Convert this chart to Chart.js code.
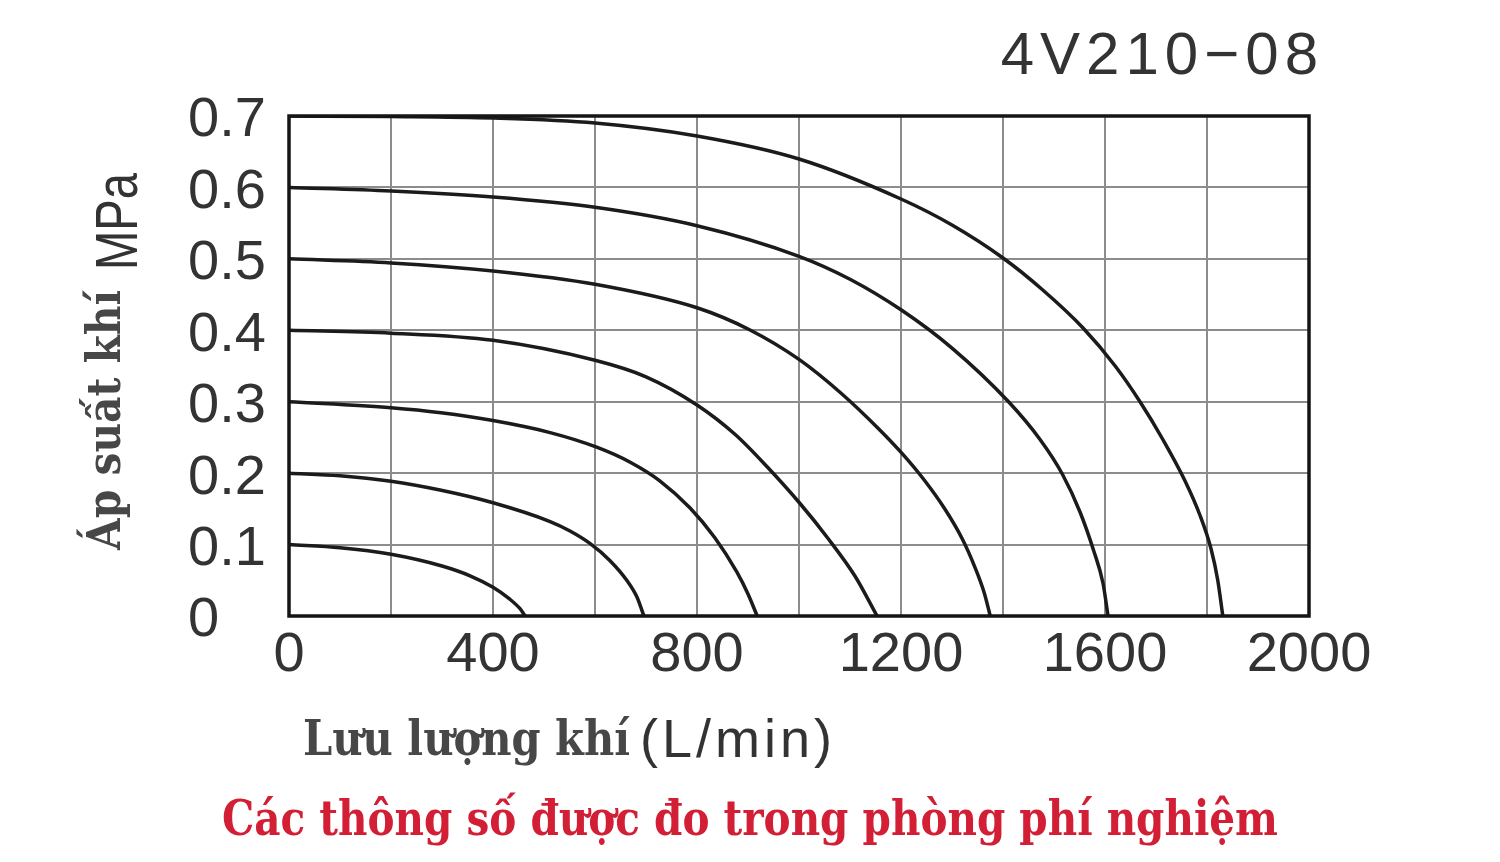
<!DOCTYPE html>
<html>
<head>
<meta charset="utf-8">
<script src="https://cdn.jsdelivr.net/npm/chart.js@4/dist/chart.umd.min.js"></script>
<style>
  html, body { margin: 0; padding: 0; background: #fff; }
  #wrap { width: 1500px; height: 862px; }
</style>
</head>
<body>
<div id="wrap"><canvas id="chart" width="1500" height="862"></canvas></div>
<script>
// Lưu lượng khí (L/min) – áp suất (MPa), đọc từ biểu đồ 4V210-08
const curve07 = [[0,0.7],[200,0.6993],[400,0.6972],[600,0.6902],[800,0.672],[1000,0.6398],[1200,0.5838],[1300,0.5474],[1400,0.5012],[1478,0.4564],[1557,0.4032],[1620,0.35],[1669,0.2996],[1714,0.2464],[1757,0.189],[1786,0.1414],[1808,0.0938],[1821,0.0504],[1831,0]];
const curve06 = [[0,0.6],[200,0.595],[400,0.5865],[600,0.5722],[800,0.5464],[1000,0.5036],[1100,0.4715],[1200,0.4287],[1300,0.3751],[1410,0.3006],[1473,0.2468],[1516,0.1991],[1551,0.1456],[1578,0.091],[1596,0.0462],[1606,0]];
const curve05 = [[0,0.5],[200,0.4943],[400,0.483],[600,0.4644],[800,0.4315],[904,0.4004],[1000,0.3592],[1082,0.3122],[1155,0.2629],[1202,0.2276],[1247,0.189],[1286,0.1498],[1320,0.1082],[1345,0.0682],[1363,0.0329],[1375,0]];
const curve04 = [[0,0.4],[200,0.396],[400,0.386],[600,0.358],[700,0.3349],[800,0.2955],[875,0.2541],[937,0.2093],[1002,0.1575],[1057,0.1085],[1110,0.0556],[1153,0]];
const curve03 = [[0,0.3],[200,0.2915],[298,0.2845],[400,0.2736],[512,0.2568],[602,0.2367],[669,0.2153],[727,0.1893],[786,0.1515],[835,0.1095],[878,0.0617],[900,0.0309],[918,0]];
const curve02 = [[0,0.2],[100,0.1964],[200,0.1886],[296,0.1763],[400,0.1585],[512,0.1322],[551,0.119],[590,0.1016],[629,0.0778],[663,0.0493],[682,0.0269],[696,0]];
const curve01 = [[0,0.1],[100,0.0956],[200,0.0864],[300,0.07],[355,0.0563],[400,0.0402],[433,0.0235],[453,0.0102],[463,0]];

const curves = [curve07, curve06, curve05, curve04, curve03, curve02, curve01];
const xTickLabels = ['0', '400', '800', '1200', '1600', '2000'];
const yTickLabels = ['0', '0.1', '0.2', '0.3', '0.4', '0.5', '0.6', '0.7'];

const chartTitle = '4V210−08';
const yTitleMain = 'Áp suất khí';
const yTitleUnit = 'MPa';
const xTitleMain = 'Lưu lượng khí';
const xTitleUnit = '(L/min)';
const caption = 'Các thông số được đo trong phòng phí nghiệm';

// khung đen quanh vùng vẽ
const framePlugin = {
  id: 'frame',
  afterDatasetsDraw(chart) {
    const { ctx, chartArea: a } = chart;
    ctx.save();
    ctx.strokeStyle = '#151515';
    ctx.lineWidth = 3.5;
    ctx.strokeRect(a.left, a.top, a.right - a.left, a.bottom - a.top);
    ctx.restore();
  }
};

// tiêu đề, tên trục và dòng chú thích đỏ
const textPlugin = {
  id: 'texts',
  afterDraw(chart) {
    const ctx = chart.ctx;
    ctx.save();
    ctx.textBaseline = 'alphabetic';

    ctx.fillStyle = '#333';
    ctx.font = '60px "Liberation Sans"';
    ctx.letterSpacing = '6px';
    ctx.textAlign = 'right';
    ctx.fillText(chartTitle, 1324, 74);
    ctx.letterSpacing = '0px';

    // trục Y (xoay)
    ctx.save();
    ctx.translate(120, 550);
    ctx.rotate(-Math.PI / 2);
    ctx.textAlign = 'left';
    ctx.fillStyle = '#474747';
    ctx.font = 'bold 46px "DejaVu Serif"';
    ctx.fillText(yTitleMain, 0, 0, 260);
    ctx.restore();
    ctx.save();
    ctx.translate(137, 270);
    ctx.rotate(-Math.PI / 2);
    ctx.textAlign = 'left';
    ctx.fillStyle = '#333';
    ctx.font = '60px "Liberation Sans"';
    ctx.fillText(yTitleUnit, 0, 0, 97);
    ctx.restore();

    // trục X
    ctx.textAlign = 'left';
    ctx.fillStyle = '#474747';
    ctx.font = 'bold 48px "DejaVu Serif"';
    ctx.fillText(xTitleMain, 303, 755, 327);
    ctx.fillStyle = '#333';
    ctx.font = '54px "Liberation Sans"';
    ctx.letterSpacing = '4px';
    ctx.fillText(xTitleUnit, 640, 757);
    ctx.letterSpacing = '0px';

    // chú thích
    ctx.fillStyle = '#d21f35';
    ctx.font = 'bold 48px "DejaVu Serif"';
    ctx.fillText(caption, 222, 835, 1056);
    ctx.restore();
  }
};

new Chart(document.getElementById('chart'), {
  type: 'line',
  data: {
    datasets: curves.map((c, i) => ({
      label: yTickLabels[7 - i],
      data: c.map(p => ({ x: p[0], y: p[1] })),
      borderColor: '#1c1a1a',
      borderWidth: 3.5,
      pointRadius: 0,
      cubicInterpolationMode: 'monotone',
      fill: false
    }))
  },
  options: {
    responsive: false,
    animation: false,
    events: [],
    layout: { padding: { left: 188, top: 116, right: 191, bottom: 0 } },
    plugins: { legend: { display: false }, tooltip: { enabled: false } },
    scales: {
      x: {
        type: 'linear',
        min: 0,
        max: 2000,
        afterFit: axis => { axis.height = 246; },
        afterBuildTicks: axis => {
          axis.ticks = [];
          for (let v = 0; v <= 2000; v += 200) axis.ticks.push({ value: v });
        },
        ticks: {
          autoSkip: false,
          maxRotation: 0,
          padding: 6,
          color: '#333',
          font: { family: 'Liberation Sans', size: 56 },
          callback: v => (v % 400 === 0 ? xTickLabels[v / 400] : '')
        },
        grid: { color: '#8c8c8c', lineWidth: 2, drawTicks: false },
        border: { display: false }
      },
      y: {
        type: 'linear',
        min: 0,
        max: 0.7,
        afterFit: axis => { axis.width = 101; },
        afterBuildTicks: axis => {
          axis.ticks = yTickLabels.map((_, i) => ({ value: i / 10 }));
        },
        ticks: {
          crossAlign: 'far',
          labelOffset: 5,
          color: '#333',
          font: { family: 'Liberation Sans', size: 56 },
          callback: (v, i) => yTickLabels[i]
        },
        grid: { color: '#8c8c8c', lineWidth: 2, drawTicks: false },
        border: { display: false }
      }
    }
  },
  plugins: [framePlugin, textPlugin]
});
</script>
</body>
</html>
